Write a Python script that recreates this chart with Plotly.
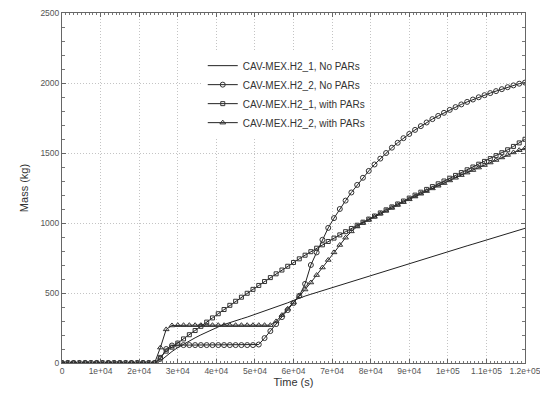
import plotly.graph_objects as go

# time stamps (s)
time_s = list(range(0, 120001, 1500))

zeros = [0] * 17  # 0 .. 24000 s

h2_1_no_pars = zeros + [
    15, 50, 82, 110, 135, 158, 180, 201, 221, 240, 258, 275, 290, 302, 315, 328,
    342, 356, 370, 385, 400, 415, 430, 447, 464, 478, 491, 504, 517, 530, 543, 556,
    568, 581, 594, 607, 620, 632, 645, 658, 671, 684, 696, 709, 722, 735, 747, 760,
    773, 786, 798, 811, 824, 837, 849, 862, 875, 887, 900, 913, 925, 938, 950, 962]

h2_2_no_pars = zeros + [
    30, 100, 125, 128, 128, 128, 128, 128, 128, 128, 128, 128, 128, 128, 128, 128,
    128, 132, 178, 228, 278, 328, 378, 428, 480, 565, 700, 790, 880, 965, 1035, 1100,
    1160, 1218, 1272, 1323, 1372, 1418, 1460, 1500, 1538, 1573, 1606, 1636, 1665, 1692, 1718, 1742,
    1765, 1787, 1808, 1828, 1847, 1865, 1882, 1898, 1913, 1928, 1942, 1956, 1970, 1983, 1995, 2003]

h2_1_with_pars = zeros + [
    40, 85, 113, 142, 172, 202, 232, 262, 292, 322, 352, 382, 412, 441, 470, 498,
    526, 554, 582, 610, 637, 664, 691, 718, 744, 770, 795, 820, 844, 868, 892, 915,
    938, 961, 984, 1006, 1028, 1050, 1072, 1094, 1115, 1136, 1157, 1178, 1199, 1220, 1240, 1260,
    1280, 1300, 1320, 1340, 1360, 1380, 1400, 1420, 1440, 1460, 1481, 1502, 1523, 1547, 1572, 1598]

h2_2_with_pars = zeros + [
    110, 240, 268, 270, 270, 270, 270, 270, 270, 270, 270, 270, 270, 270, 270, 270,
    270, 270, 270, 270, 297, 342, 387, 432, 477, 525, 575, 628, 682, 736, 790, 843,
    895, 940, 975, 1000, 1022, 1044, 1066, 1087, 1108, 1129, 1149, 1169, 1189, 1209, 1228, 1247,
    1266, 1285, 1304, 1323, 1342, 1360, 1378, 1396, 1414, 1432, 1450, 1468, 1486, 1504, 1520, 1533]

series_names = ["CAV-MEX.H2_1, No PARs", "CAV-MEX.H2_2, No PARs",
                "CAV-MEX.H2_1, with PARs", "CAV-MEX.H2_2, with PARs"]

x_tick_vals = [0, 10000, 20000, 30000, 40000, 50000, 60000, 70000, 80000, 90000, 100000, 110000, 120000]
x_tick_text = ["0", "1e+04", "2e+04", "3e+04", "4e+04", "5e+04", "6e+04", "7e+04", "8e+04",
               "9e+04", "1e+05", "1.1e+05", "1.2e+05"]
y_tick_vals = [0, 500, 1000, 1500, 2000, 2500]

for s in (h2_1_no_pars, h2_2_no_pars, h2_1_with_pars, h2_2_with_pars):
    assert len(s) == len(time_s), len(s)

line_col = "#222222"
mk_col = "#333333"
FONT = "Liberation Sans"

fig = go.Figure()
fig.add_trace(go.Scatter(x=time_s, y=h2_1_no_pars, mode="lines", name=series_names[0],
                         line=dict(color=line_col, width=1)))
fig.add_trace(go.Scatter(x=time_s, y=h2_2_no_pars, mode="lines+markers", name=series_names[1],
                         line=dict(color=line_col, width=1),
                         marker=dict(symbol="circle-open", size=5, color=mk_col, line=dict(width=1))))
fig.add_trace(go.Scatter(x=time_s, y=h2_1_with_pars, mode="lines+markers", name=series_names[2],
                         line=dict(color=line_col, width=1),
                         marker=dict(symbol="square-open", size=4, color=mk_col, line=dict(width=1))))
fig.add_trace(go.Scatter(x=time_s, y=h2_2_with_pars, mode="lines+markers", name=series_names[3],
                         line=dict(color=line_col, width=1),
                         marker=dict(symbol="triangle-up-open", size=5, color=mk_col, line=dict(width=1))))

axis_common = dict(
    showline=True, linecolor="#666666", linewidth=1, mirror="ticks",
    ticks="inside", ticklen=4, tickcolor="#666666",
    showgrid=True, gridcolor="#c4c4c4", griddash="1px,2px", gridwidth=1,
    zeroline=False, tickangle=0, automargin=False, ticklabeloverflow="allow",
    tickfont=dict(family=FONT, size=8.5, color="#555555"),
)

fig.update_xaxes(range=[0, 120000], tickvals=x_tick_vals, ticktext=x_tick_text,
                 title=dict(text="Time (s)", font=dict(family=FONT, size=11, color="#333333"), standoff=3),
                 minor=dict(dtick=1000, ticks="inside", ticklen=2, tickcolor="#777777", showgrid=False),
                 **axis_common)
fig.update_yaxes(range=[0, 2500], tickvals=y_tick_vals,
                 title=dict(text="Mass (kg)", font=dict(family=FONT, size=11, color="#333333"), standoff=9),
                 minor=dict(dtick=100, ticks="inside", ticklen=3, tickcolor="#777777", showgrid=False),
                 **axis_common)

# the page body adds an 8px margin around the figure; size it so the page is exactly 548x396
fig.update_layout(
    width=532, height=380,
    margin=dict(l=54, r=15, t=5, b=25),
    paper_bgcolor="white", plot_bgcolor="white",
    showlegend=True,
    legend=dict(x=0.304, y=0.891, xanchor="left", yanchor="top",
                bgcolor="white", borderwidth=0,
                font=dict(family=FONT, size=10, color="#333333"),
                tracegroupgap=0, itemwidth=30),
)

fig.write_html("out.html")
